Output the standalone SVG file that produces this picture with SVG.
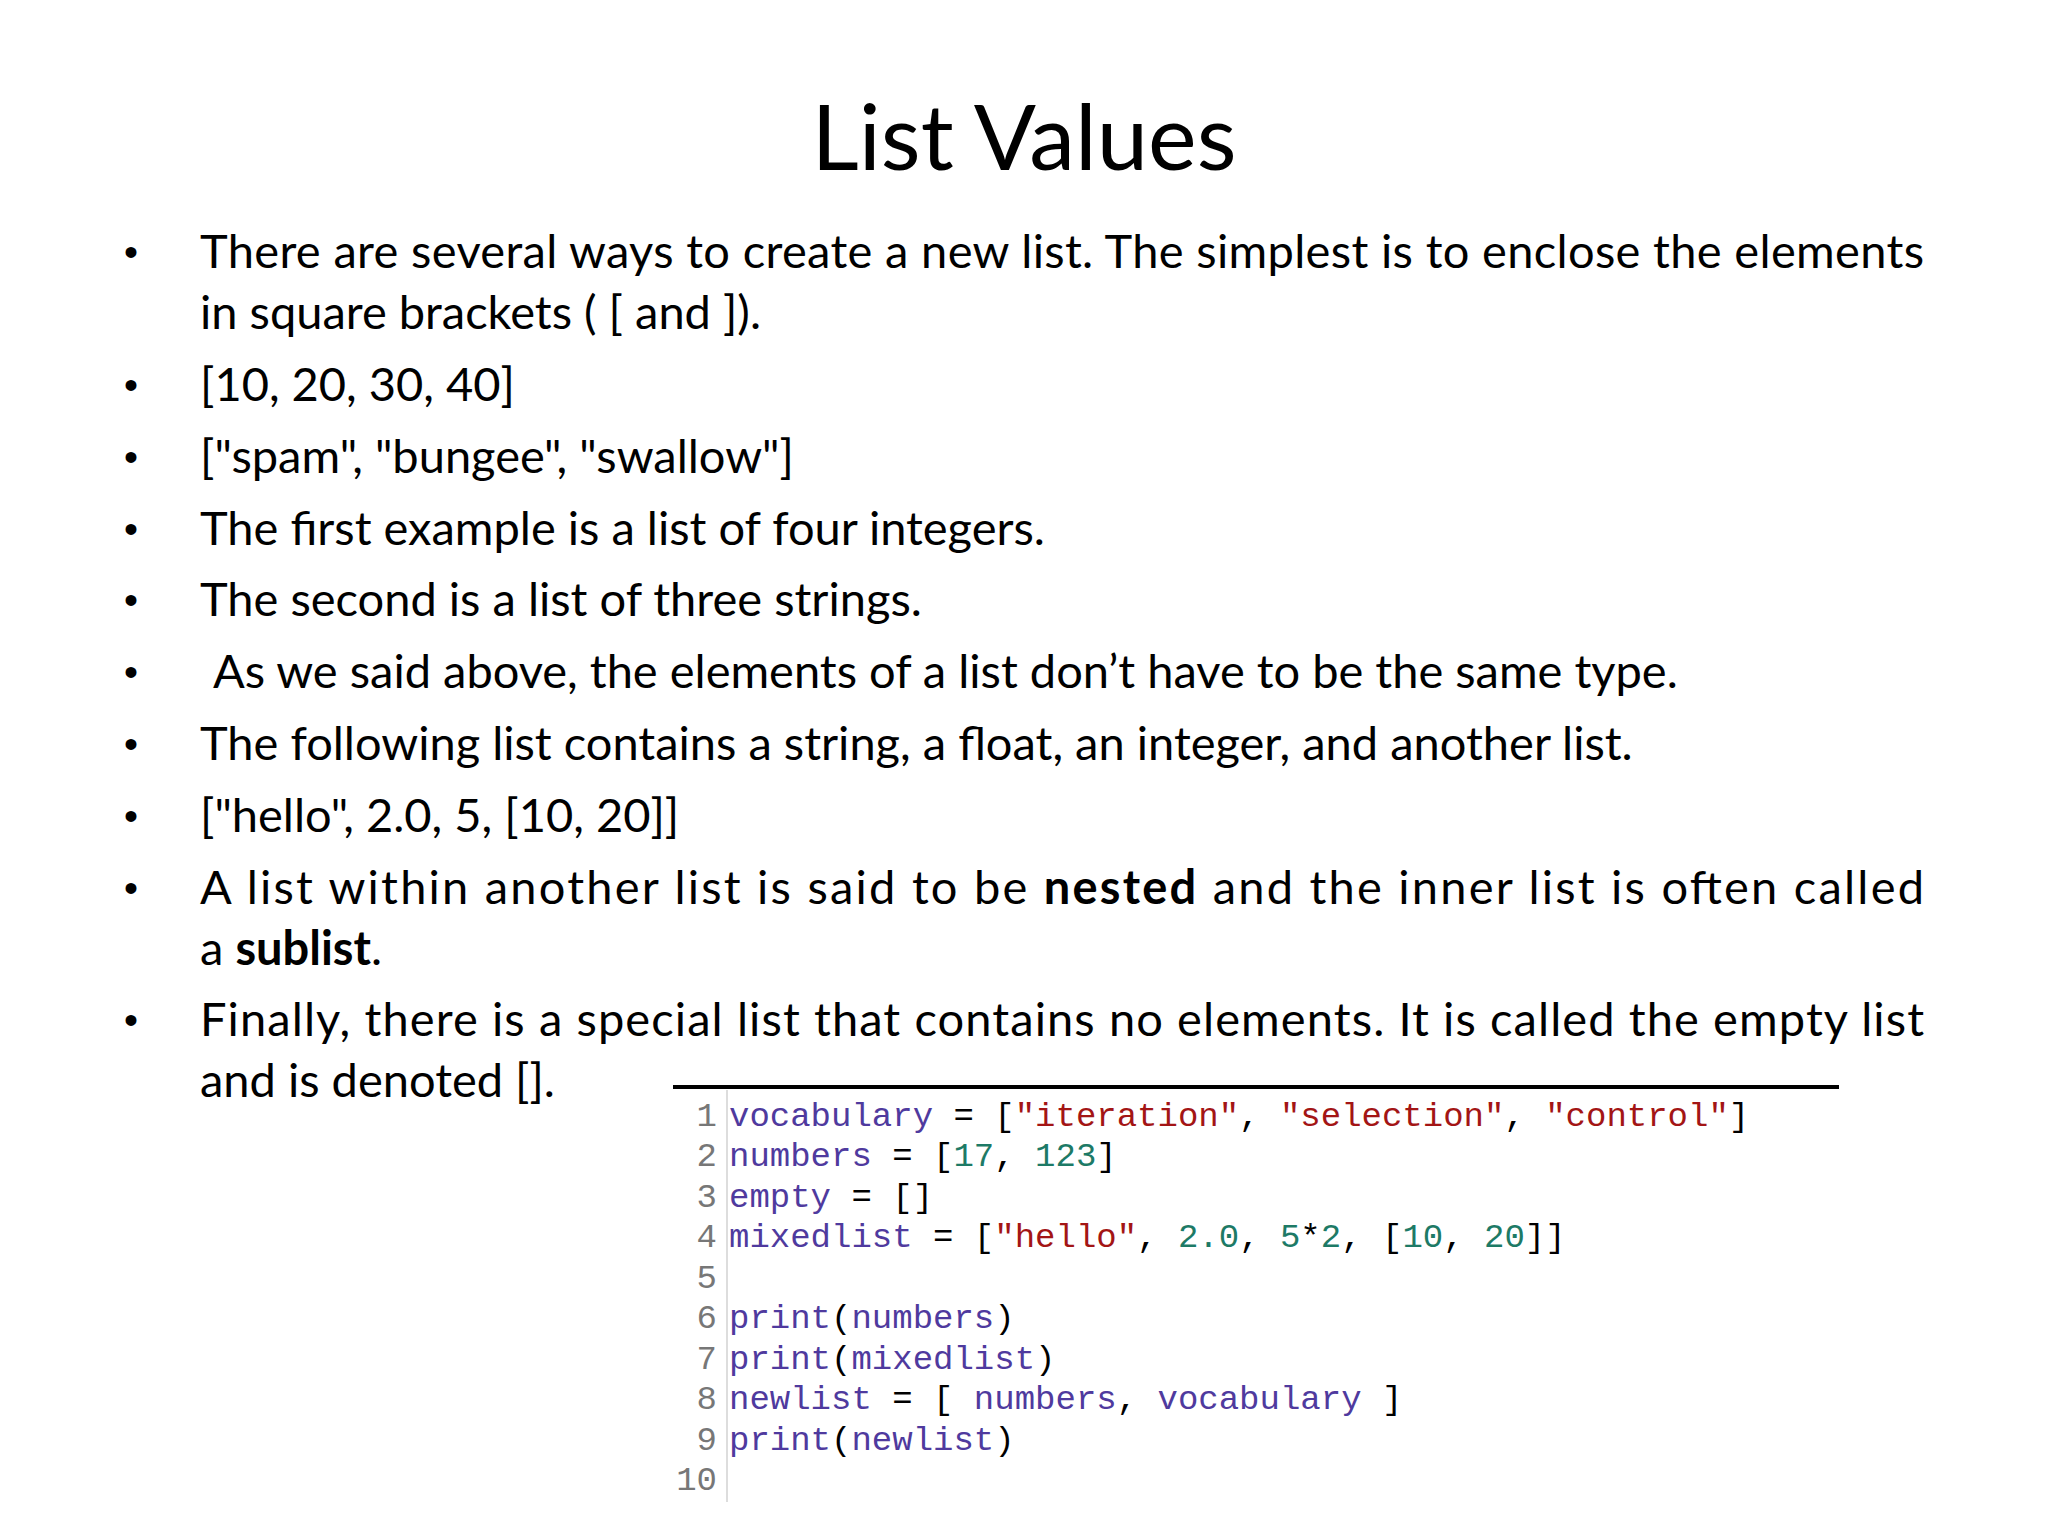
<svg xmlns="http://www.w3.org/2000/svg" width="2048" height="1536" viewBox="0 0 2048 1536">
<style>
.t{font-family:Lato,"Open Sans",sans-serif;font-size:47px;fill:#000}
.b{font-family:"Liberation Sans",sans-serif;font-size:40px}
.c{font-family:"Liberation Mono","DejaVu Sans Mono",monospace;font-size:34px;fill:#000}
.n{fill:#777}.i{fill:#4f3a9e}.s{fill:#a31515}.d{fill:#1d7a66}
</style>
<rect width="2048" height="1536" fill="#fff"/>
<g id="title"><text x="1024" y="170" text-anchor="middle" font-family="Lato,'Open Sans',sans-serif" font-size="92">List Values</text></g>
<g id="bullets">
<g class="b"><text x="124" y="266">•</text><text x="124" y="399">•</text><text x="124" y="471">•</text><text x="124" y="543">•</text><text x="124" y="614">•</text><text x="124" y="686">•</text><text x="124" y="758">•</text><text x="124" y="830">•</text><text x="124" y="902">•</text><text x="124" y="1034">•</text></g>
<text class="t" x="200" y="268" textLength="1724" lengthAdjust="spacing">There are several ways to create a new list. The simplest is to enclose the elements</text>
<text class="t" x="200" y="329">in square brackets ( [ and ]).</text>
<text class="t" x="200" y="401">[10, 20, 30, 40]</text>
<text class="t" x="200" y="473">["spam", "bungee", "swallow"]</text>
<text class="t" x="200" y="545">The first example is a list of four integers.</text>
<text class="t" x="200" y="616">The second is a list of three strings.</text>
<text class="t" x="213" y="688">As we said above, the elements of a list don’t have to be the same type.</text>
<text class="t" x="200" y="760">The following list contains a string, a float, an integer, and another list.</text>
<text class="t" x="200" y="832">["hello", 2.0, 5, [10, 20]]</text>
<text class="t" x="200" y="904" textLength="1724" lengthAdjust="spacing">A  list  within  another  list  is  said  to  be <tspan font-weight="bold">nested</tspan> and  the  inner  list  is  often  called</text>
<text class="t" x="200" y="965">a <tspan font-weight="bold">sublist</tspan>.</text>
<text class="t" x="200" y="1036" textLength="1724" lengthAdjust="spacing">Finally, there is a special list that contains no elements. It is called the empty list</text>
<text class="t" x="200" y="1097">and is denoted [].</text>
</g>
<g id="code">
<line x1="673" y1="1087" x2="1839" y2="1087" stroke="#000" stroke-width="4"/>
<line x1="727" y1="1090" x2="727" y2="1502" stroke="#ddd" stroke-width="2"/>
<g class="c n" text-anchor="end">
<text x="717" y="1126">1</text><text x="717" y="1166">2</text><text x="717" y="1207">3</text><text x="717" y="1247">4</text><text x="717" y="1288">5</text><text x="717" y="1328">6</text><text x="717" y="1369">7</text><text x="717" y="1409">8</text><text x="717" y="1450">9</text><text x="717" y="1490">10</text>
</g>
<text class="c" x="729" y="1126"><tspan class="i">vocabulary</tspan> = [<tspan class="s">"iteration"</tspan>, <tspan class="s">"selection"</tspan>, <tspan class="s">"control"</tspan>]</text>
<text class="c" x="729" y="1166"><tspan class="i">numbers</tspan> = [<tspan class="d">17</tspan>, <tspan class="d">123</tspan>]</text>
<text class="c" x="729" y="1207"><tspan class="i">empty</tspan> = []</text>
<text class="c" x="729" y="1247"><tspan class="i">mixedlist</tspan> = [<tspan class="s">"hello"</tspan>, <tspan class="d">2.0</tspan>, <tspan class="d">5</tspan>*<tspan class="d">2</tspan>, [<tspan class="d">10</tspan>, <tspan class="d">20</tspan>]]</text>
<text class="c" x="729" y="1328"><tspan class="i">print</tspan>(<tspan class="i">numbers</tspan>)</text>
<text class="c" x="729" y="1369"><tspan class="i">print</tspan>(<tspan class="i">mixedlist</tspan>)</text>
<text class="c" x="729" y="1409"><tspan class="i">newlist</tspan> = [ <tspan class="i">numbers</tspan>, <tspan class="i">vocabulary</tspan> ]</text>
<text class="c" x="729" y="1450"><tspan class="i">print</tspan>(<tspan class="i">newlist</tspan>)</text>
</g>
</svg>
